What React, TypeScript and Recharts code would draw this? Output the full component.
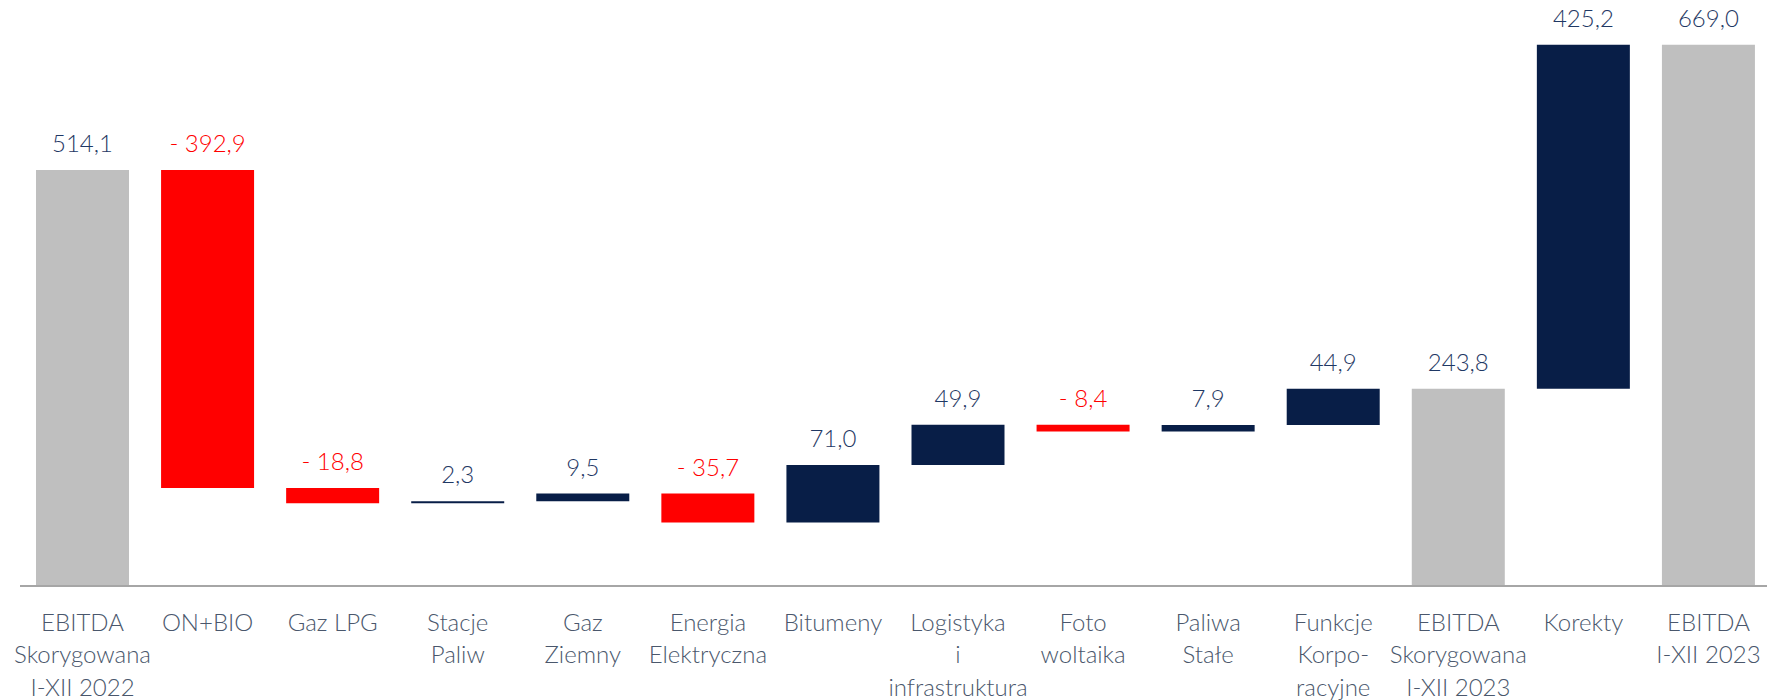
import React from "react";
import { BarChart, Bar, XAxis, YAxis, Cell, LabelList } from "recharts";

const categories = [
  "EBITDA\nSkorygowana\nI-XII 2022",
  "ON+BIO",
  "Gaz LPG",
  "Stacje\nPaliw",
  "Gaz\nZiemny",
  "Energia\nElektryczna",
  "Bitumeny",
  "Logistyka\ni\ninfrastruktura",
  "Foto\nwoltaika",
  "Paliwa\nStałe",
  "Funkcje\nKorpo-\nracyjne",
  "EBITDA\nSkorygowana\nI-XII 2023",
  "Korekty",
  "EBITDA\nI-XII 2023",
];

const values = [514.1, -392.9, -18.8, 2.3, 9.5, -35.7, 71.0, 49.9, -8.4, 7.9, 44.9, 243.8, 425.2, 669.0];

const kinds = ["total", "delta", "delta", "delta", "delta", "delta", "delta", "delta", "delta", "delta", "delta", "total", "delta", "total"];

const GRAY = "#BFBFBF";
const NAVY = "#081E47";
const RED = "#FF0000";
const LABEL_NAVY = "#1F3864";
const TICK = "#4A576C";
const FONT = "Lato, 'Open Sans', sans-serif";

const fmt = (v: number) => {
  const s = Math.abs(v).toFixed(1).replace(".", ",");
  return v < 0 ? "- " + s : s;
};

const data = (() => {
  let running = 0;
  return categories.map((name, i) => {
    const v = values[i];
    let range: [number, number];
    if (kinds[i] === "total") {
      range = [0, v];
      running = v;
    } else {
      const start = running;
      const end = running + v;
      range = [Math.min(start, end), Math.max(start, end)];
      running = end;
    }
    const fill = kinds[i] === "total" ? GRAY : v < 0 ? RED : NAVY;
    return { name, range, display: fmt(v), fill };
  });
})();

const CategoryTick = (props: any) => {
  const { x, y, payload } = props;
  const lines = String(payload.value).split("\n");
  return (
    <g>
      {lines.map((ln, i) => (
        <text
          key={i}
          x={x}
          y={y + 44.5 + i * 32.5}
          textAnchor="middle"
          fill={TICK}
          fontFamily={FONT}
          fontWeight={300}
          fontSize={24}
        >
          {ln}
        </text>
      ))}
    </g>
  );
};

const ValueLabel = (props: any) => {
  const { x, y, width, value } = props;
  const s = String(value);
  return (
    <text
      x={Number(x) + Number(width) / 2}
      y={Number(y) - 18}
      textAnchor="middle"
      fill={s.startsWith("-") ? RED : LABEL_NAVY}
      fontFamily={FONT}
      fontWeight={300}
      fontSize={24}
    >
      {s}
    </text>
  );
};

export default function App() {
  return (
    <div
      style={{
        position: "fixed",
        left: 0,
        top: 0,
        width: 1767,
        height: 700,
        overflow: "hidden",
        background: "#fff",
      }}
    >
      <BarChart
        width={1771}
        height={700}
        data={data}
        margin={{ top: 19.6, right: 0, bottom: 0, left: 20 }}
        barSize={93}
      >
        <XAxis
          dataKey="name"
          interval={0}
          tickLine={false}
          tickSize={0}
          tickMargin={0}
          height={114}
          axisLine={{ stroke: "#A6A6A6", strokeWidth: 2 }}
          tick={<CategoryTick />}
        />
        <YAxis hide domain={[0, 700]} />
        <Bar dataKey="range" isAnimationActive={false}>
          {data.map((d, i) => (
            <Cell key={i} fill={d.fill} />
          ))}
          <LabelList dataKey="display" content={<ValueLabel />} />
        </Bar>
      </BarChart>
    </div>
  );
}
